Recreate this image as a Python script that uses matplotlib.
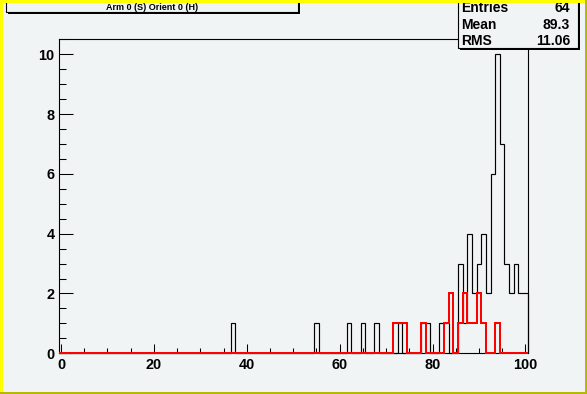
import numpy as np
import matplotlib
matplotlib.use("Agg")
import matplotlib.pyplot as plt
from matplotlib.patches import Rectangle
from matplotlib.ticker import MultipleLocator

W, H, DPI = 587, 394, 100

# ---------------- data ----------------
title_text = "Arm 0 (S) Orient 0 (H)"
stats_labels = ["Entries", "Mean", "RMS"]
stats_values = ["64", "89.3", "11.06"]

x_ticks = [0, 20, 40, 60, 80, 100]
y_ticks = [0, 2, 4, 6, 8, 10]

black_bins = [37, 55, 62, 65, 68, 73, 78, 79, 82, 83, 86, 87, 88, 89, 90,
              91, 92, 93, 94, 95, 96, 97, 98, 99, 100]
black_counts = [1, 1, 1, 1, 1, 1, 1, 1, 1, 1, 3, 1, 4, 2, 3,
                4, 2, 6, 10, 7, 3, 2, 3, 2, 2]

red_bins = [72, 73, 74, 78, 83, 84, 86, 87, 88, 89, 90, 91, 94]
red_counts = [1, 1, 1, 1, 1, 2, 1, 2, 1, 1, 2, 1, 1]

n_bins = 101
edges = np.arange(n_bins + 1) - 0.5
black_full = np.zeros(n_bins)
black_full[black_bins] = black_counts
red_full = np.zeros(n_bins)
red_full[red_bins] = red_counts

# ---------------- style ----------------
BG = "#f1f4f5"
FONT = "Liberation Sans"

def fx(px):
    return px / W

def fy(py_img):
    return 1 - py_img / H

fig = plt.figure(figsize=(W / DPI, H / DPI), dpi=DPI, facecolor=BG)

# frame
L, R, T, B = 58.7, 527.7, 39.3, 353.3
ax = fig.add_axes([fx(L), fy(B), fx(R - L), (B - T) / H])
ax.set_facecolor(BG)
ax.set_xlim(-0.5, 100.5)
ax.set_ylim(0, 10.5)

ax.stairs(black_full, edges, baseline=0, color="black", lw=0.85, zorder=3, clip_on=False)
ax.stairs(red_full, edges, baseline=0, color="#ff0000", lw=1.45, zorder=4, clip_on=False)

for s in ax.spines.values():
    s.set_linewidth(0.8)
    s.set_color("black")

ax.set_xticks(x_ticks)
ax.xaxis.set_minor_locator(MultipleLocator(5))
ax.set_yticks(y_ticks)
ax.yaxis.set_minor_locator(MultipleLocator(0.5))
ax.tick_params(axis="x", which="major", direction="in", length=6.5, width=0.75, pad=3.5,
               top=False, labelsize=10.4)
ax.tick_params(axis="x", which="minor", direction="in", length=3.3, width=0.75, top=False)
ax.tick_params(axis="y", which="major", direction="in", length=10.1, width=0.75, pad=3.0,
               right=False, labelsize=10.4)
ax.tick_params(axis="y", which="minor", direction="in", length=5.0, width=0.75, right=False)
for lab in ax.get_xticklabels() + ax.get_yticklabels():
    lab.set_fontfamily(FONT)
    lab.set_fontweight("bold")

# ---------------- title box ----------------
def box(x0, y0, x1, y1, shadow=2.0):
    # y in image coords (top-down)
    fig.add_artist(Rectangle((fx(x0 + shadow), fy(y1 + shadow)), fx(x1 - x0), (y1 - y0) / H,
                             transform=fig.transFigure, facecolor="black", edgecolor="none",
                             zorder=10))
    fig.add_artist(Rectangle((fx(x0), fy(y1)), fx(x1 - x0), (y1 - y0) / H,
                             transform=fig.transFigure, facecolor=BG, edgecolor="black",
                             lw=0.8, zorder=11))

box(6, -6, 298, 12.3, shadow=2.0)
fig.text(fx(152), fy(10.2), title_text, ha="center", va="baseline", fontsize=6.5,
         fontweight="bold", family=FONT, zorder=12)

# ---------------- stats box ----------------
box(458, -6, 578, 48, shadow=2.0)
baselines = [11.7, 28.6, 45.0]
for lab, val, yb in zip(stats_labels, stats_values, baselines):
    fig.text(fx(461.5), fy(yb), lab, ha="left", va="baseline", fontsize=10,
             fontweight="bold", family=FONT, zorder=12)
    fig.text(fx(570), fy(yb), val, ha="right", va="baseline", fontsize=10,
             fontweight="bold", family=FONT, zorder=12)

# ---------------- canvas bevel border ----------------
bw = 2.5
light, dark = "#ffff00", "#b8b800"
fig.add_artist(Rectangle((0, 0), fx(bw), 1, transform=fig.transFigure, facecolor=light,
                         edgecolor="none", zorder=20))
fig.add_artist(Rectangle((0, fy(bw)), 1, bw / H, transform=fig.transFigure, facecolor=light,
                         edgecolor="none", zorder=20))
fig.add_artist(Rectangle((0, 0), 1, bw / H, transform=fig.transFigure, facecolor=dark,
                         edgecolor="none", zorder=21))
fig.add_artist(Rectangle((fx(W - bw), 0), fx(bw), 1, transform=fig.transFigure, facecolor=dark,
                         edgecolor="none", zorder=21))

fig.savefig("out.png", dpi=DPI, facecolor=BG)
